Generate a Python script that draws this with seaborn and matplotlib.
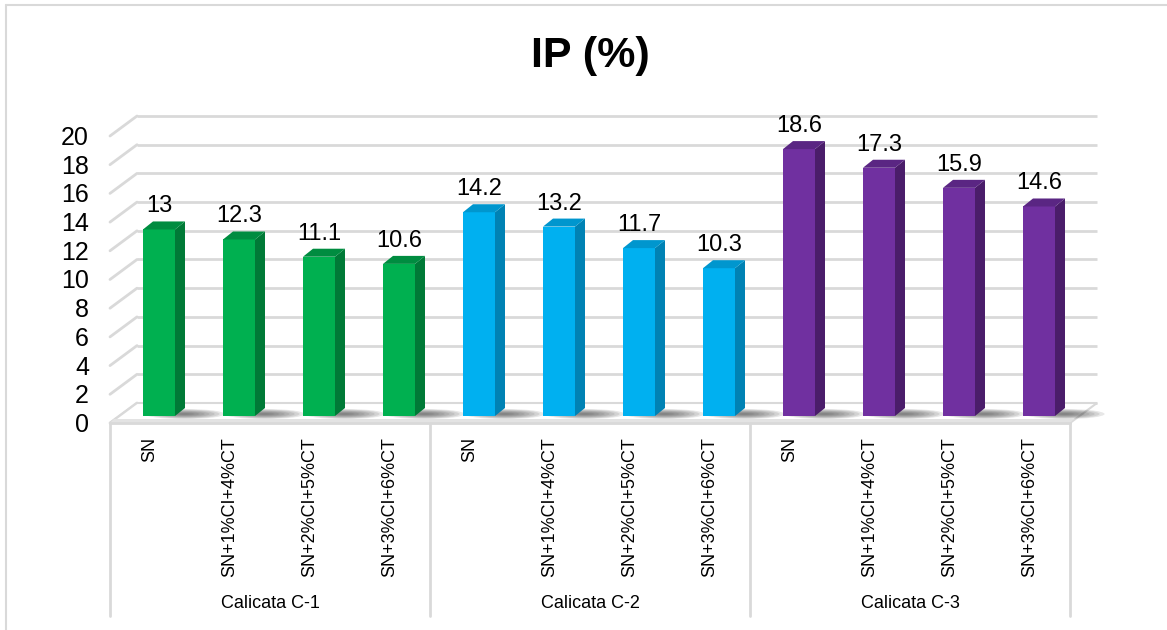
import numpy as np
import pandas as pd
import matplotlib
matplotlib.use("Agg")
import matplotlib.pyplot as plt
import seaborn as sns
from matplotlib.patches import Polygon, Ellipse
from matplotlib.lines import Line2D

# ---------------- data ----------------
groups = ["Calicata C-1", "Calicata C-2", "Calicata C-3"]
treatments = ["SN", "SN+1%CI+4%CT", "SN+2%CI+5%CT", "SN+3%CI+6%CT"]
ip_c1 = [13, 12.3, 11.1, 10.6]
ip_c2 = [14.2, 13.2, 11.7, 10.3]
ip_c3 = [18.6, 17.3, 15.9, 14.6]
y_ticks = [0, 2, 4, 6, 8, 10, 12, 14, 16, 18, 20]
title = "IP (%)"

front_colors = ["#00B050", "#00B0F0", "#7030A0"]
side_colors = ["#007A37", "#0082B4", "#4A1D6A"]
top_colors = ["#008C40", "#0096CE", "#5A2683"]
grid_color = "#D9D9D9"

rows = []
for g, vals in zip(groups, [ip_c1, ip_c2, ip_c3]):
    for t, v in zip(treatments, vals):
        rows.append({"key": f"{g} | {t}", "group": g, "treatment": t, "ip": v})
df = pd.DataFrame(rows)

# ---------------- figure ----------------
W, H, DPI = 1167, 630, 100
sns.set_theme(style="white")
plt.rcParams["font.family"] = ["Liberation Sans", "DejaVu Sans"]

fig = plt.figure(figsize=(W / DPI, H / DPI), dpi=DPI)
fig.patch.set_facecolor("white")
ax_l, ax_r, ax_t, ax_b = 119, 1079, 129, 416
ax = fig.add_axes([ax_l / W, 1 - ax_b / H, (ax_r - ax_l) / W, (ax_b - ax_t) / H])

n = len(df)
ymax = y_ticks[-1]
sx = (ax_r - ax_l) / n          # px per x data unit
sy = (ax_b - ax_t) / ymax       # px per y data unit

# depth offsets (pixels -> data units), y positive = up
fx, fy = -9 / sx, -7 / sy        # front wall
bx, by = 18 / sx, 13 / sy        # back wall
dx, dy = 10 / sx, 8 / sy         # bar depth

sns.barplot(data=df, x="key", y="ip", hue="group",
            palette=dict(zip(groups, front_colors)), dodge=False, width=0.4,
            saturation=1, legend=False, ax=ax, linewidth=0, zorder=5)
ax.set_xlim(-0.5, n - 0.5)
ax.set_ylim(0, ymax)
ax.set_axis_off()

x_lo, x_hi = -0.5, n - 0.5

# back wall gridlines and left wall diagonals
for v in y_ticks:
    ax.plot([x_lo + bx, x_hi + bx], [v + by, v + by], color=grid_color, lw=2,
            clip_on=False, zorder=1, solid_capstyle="butt")
    ax.plot([x_lo + fx, x_lo + bx], [v + fy, v + by], color=grid_color, lw=2,
            clip_on=False, zorder=1)

# floor (top surface + thin front face)
floor = Polygon([(x_lo + fx, fy), (x_hi + fx, fy), (x_hi + bx, by), (x_lo + bx, by)],
                closed=True, facecolor="white", edgecolor=grid_color, lw=1.5,
                clip_on=False, zorder=2)
ax.add_patch(floor)
slab = Polygon([(x_lo + fx, fy), (x_hi + fx, fy), (x_hi + fx + 4 / sx, fy + 4 / sy),
                (x_lo + fx + 4 / sx, fy + 4 / sy)], closed=True, facecolor="#E3E3E3",
               edgecolor="none", clip_on=False, zorder=2.5)
ax.add_patch(slab)
ax.plot([x_lo + fx, x_hi + fx], [fy, fy], color=grid_color, lw=2, clip_on=False, zorder=3)

# bars: shadows, side and top faces
for p in ax.patches[:]:
    if not isinstance(p, matplotlib.patches.Rectangle) or p.get_height() <= 0:
        continue
    x0, w, h = p.get_x(), p.get_width(), p.get_height()
    if np.isnan(h):
        continue
    idx = int(round(x0 + w / 2))
    gi = idx // len(treatments)
    x1 = x0 + w
    cx = x0 + w / 2
    # soft shadow on floor
    for k in range(8):
        f = 1 - k / 8
        ax.add_patch(Ellipse((x1 + 0.12, 2.0 / sy), width=1.0 * f, height=(10 * f) / sy,
                             facecolor="#404040", edgecolor="none", alpha=0.12,
                             clip_on=False, zorder=3.5))
    side = Polygon([(x1, 0), (x1, h), (x1 + dx, h + dy), (x1 + dx, dy)], closed=True,
                   facecolor=side_colors[gi], edgecolor="none", clip_on=False, zorder=5)
    top = Polygon([(x0, h), (x1, h), (x1 + dx, h + dy), (x0 + dx, h + dy)], closed=True,
                  facecolor=top_colors[gi], edgecolor="none", clip_on=False, zorder=5)
    ax.add_patch(side)
    ax.add_patch(top)
    ax.text(cx, h + 17 / sy, f"{h:g}", ha="center", va="baseline", fontsize=17,
            color="black", zorder=6, clip_on=False)

# y tick labels on the front wall
for v in y_ticks:
    ax.text(x_lo + fx - 21 / sx, v + fy - 9 / sy, f"{v}", ha="right", va="baseline",
            fontsize=18, color="black", clip_on=False)

# category table below the floor
y_bottom = (ax_b - 616) / sy
for gx in range(0, n + 1, len(treatments)):
    xx = gx - 0.5 + fx
    ax.plot([xx, xx], [fy, y_bottom], color=grid_color, lw=2, clip_on=False, zorder=1)

for i, t in enumerate(df["treatment"]):
    ax.text(i + fx, (ax_b - 437) / sy, t, rotation=90, ha="center", va="top",
            fontsize=13, color="black", clip_on=False)

for gi, g in enumerate(groups):
    cxg = gi * len(treatments) + (len(treatments) - 1) / 2 + fx
    ax.text(cxg, (ax_b - 604) / sy, g, ha="center", va="center", fontsize=13,
            color="black", clip_on=False)

# title
fig.text(590 / W, 1 - 67 / H, title, ha="center", va="baseline", fontsize=31,
         fontweight="bold", color="black")

# outer frame (left and top edges visible)
fig.add_artist(Line2D([6 / W, 6 / W], [0, 1 - 5 / H], transform=fig.transFigure,
                      color=grid_color, lw=1.5))
fig.add_artist(Line2D([6 / W, 1], [1 - 5 / H, 1 - 5 / H], transform=fig.transFigure,
                      color=grid_color, lw=1.5))

fig.savefig("out.png", dpi=DPI, facecolor="white")
